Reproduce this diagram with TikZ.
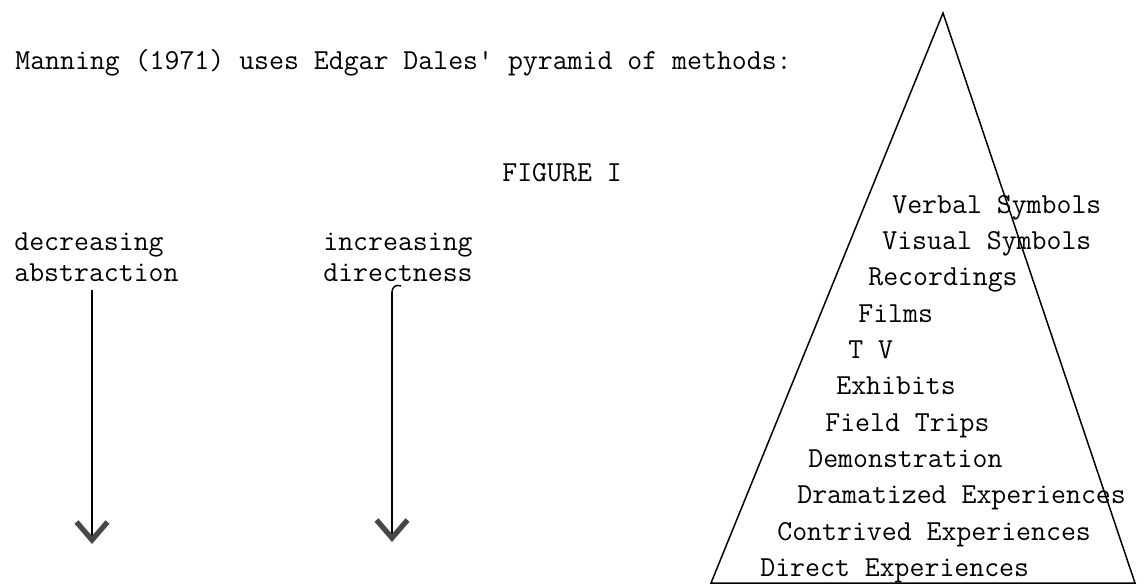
\documentclass[tikz,border=0pt]{standalone}
\usetikzlibrary{arrows.meta}
\tikzset{
  txt/.style={inner sep=0pt, anchor=base west, font=\fontsize{16.5}{20}\selectfont\ttfamily},
  edge/.style={line width=0.85pt},
  arr/.style={line width=0.9pt, -{Straight Barb[length=3.6mm,width=6.2mm,line width=3pt,color=black!72]}},
}
\begin{document}
\begin{tikzpicture}[x=0.02cm,y=-0.02cm]
\useasboundingbox (0,0) rectangle (1146,585);
% text
\node[txt] (intro) at (15,69) {Manning (1971) uses Edgar Dales' pyramid of methods:};
\node[txt] (fig) at (502,181) {FIGURE I};
\node[txt] (dec) at (14,250) {decreasing};
\node[txt] (abs) at (14,281) {abstraction};
\node[txt] (inc) at (323,250) {increasing};
\node[txt] (dir) at (323,281) {directness};
% arrows
\coordinate (a1s) at (92,290);
\coordinate (a1e) at (92,544);
\coordinate (a2s) at (392,292);
\coordinate (a2e) at (392,542);
\coordinate (a2h) at (401,286);
\draw[arr] (a1s) -- (a1e);
\draw[arr] (a2s) -- (a2e);
\draw[edge] (a2s) .. controls (392,287) and (396,284) .. (a2h);
% pyramid
\coordinate (apex) at (943,13);
\coordinate (bl) at (711,583);
\coordinate (br) at (1135,583);
\draw[edge, line join=miter] (bl) -- (apex) -- (br) -- cycle;
\node[txt] (p1) at (892,213) {Verbal Symbols};
\node[txt] (p2) at (882,249) {Visual Symbols};
\node[txt] (p3) at (868,285) {Recordings};
\node[txt] (p4) at (858,322) {Films};
\node[txt] (p5) at (848,358) {T V};
\node[txt] (p6) at (836,394) {Exhibits};
\node[txt] (p7) at (825,431) {Field Trips};
\node[txt] (p8) at (808,467) {Demonstration};
\node[txt] (p9) at (797,503) {Dramatized Experiences};
\node[txt] (p10) at (777,540) {Contrived Experiences};
\node[txt] (p11) at (760,576) {Direct Experiences};
\end{tikzpicture}
\end{document}
